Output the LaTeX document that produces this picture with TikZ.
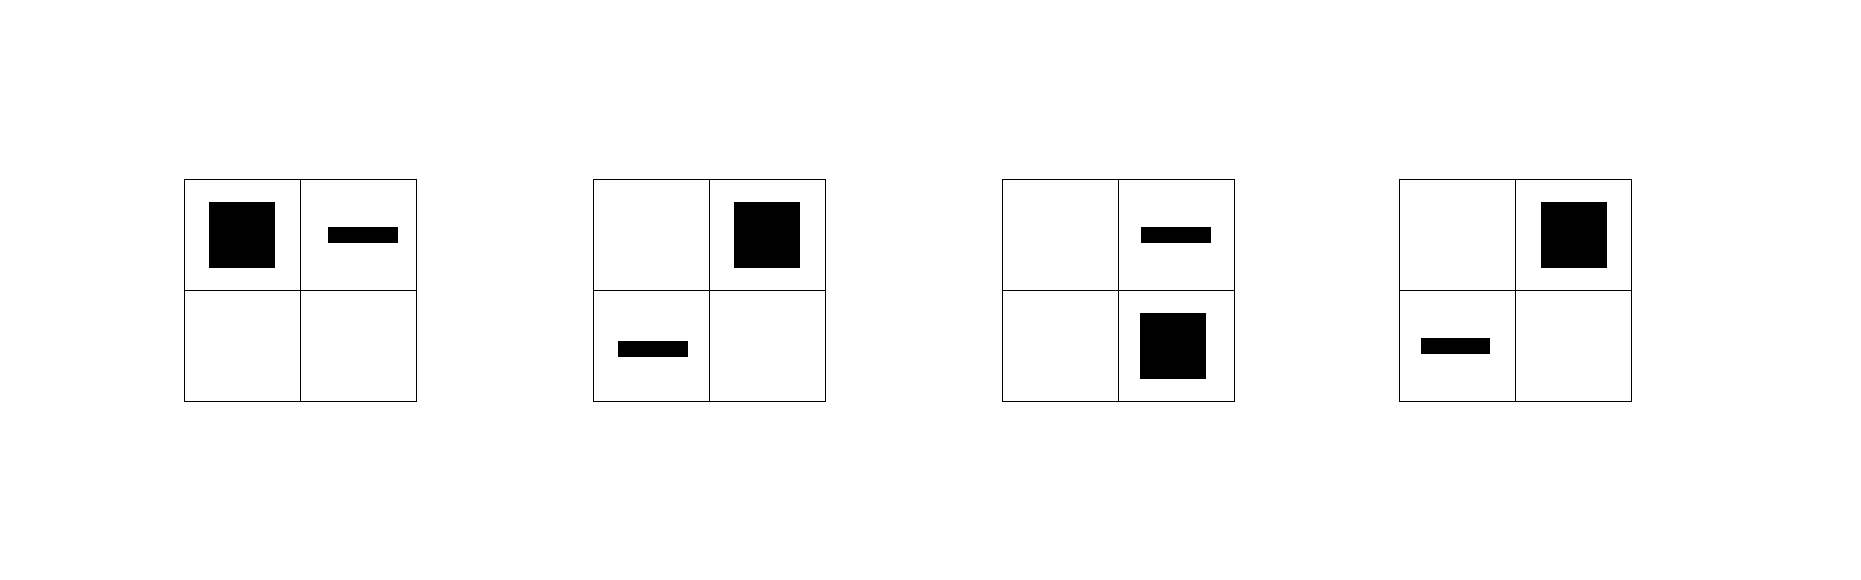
\documentclass[tikz,border=0pt]{standalone}
\begin{document}
\begin{tikzpicture}[x=1pt,y=-1pt,
  gridline/.style={draw=black,line width=1pt},
  blk/.style={fill=black,draw=none}]
\useasboundingbox[fill=white] (0,0) rectangle (1861,580);
% grid 1
\draw[gridline] (184.3,179.3) rectangle (416.3,401);
\draw[gridline] (300.3,179.3) -- (300.3,401) (184.3,290.3) -- (416.3,290.3);
\fill[blk] (209,202) rectangle (275,267.7);
\fill[blk] (328,227) rectangle (398,242.7);
% grid 2
\draw[gridline] (593.3,179.3) rectangle (825.7,401);
\draw[gridline] (709.3,179.3) -- (709.3,401) (593.3,290.3) -- (825.7,290.3);
\fill[blk] (734,202) rectangle (800,267.7);
\fill[blk] (618,341) rectangle (688,357);
% grid 3
\draw[gridline] (1002.3,179.3) rectangle (1234.7,401);
\draw[gridline] (1118.3,179.3) -- (1118.3,401) (1002.3,290.3) -- (1234.7,290.3);
\fill[blk] (1141,227) rectangle (1211,242.7);
\fill[blk] (1140,313) rectangle (1206,379);
% grid 4
\draw[gridline] (1399.3,179.3) rectangle (1631.3,401);
\draw[gridline] (1515.3,179.3) -- (1515.3,401) (1399.3,290.3) -- (1631.3,290.3);
\fill[blk] (1541,202) rectangle (1607,267.7);
\fill[blk] (1421,338) rectangle (1490,354);
\end{tikzpicture}
\end{document}
